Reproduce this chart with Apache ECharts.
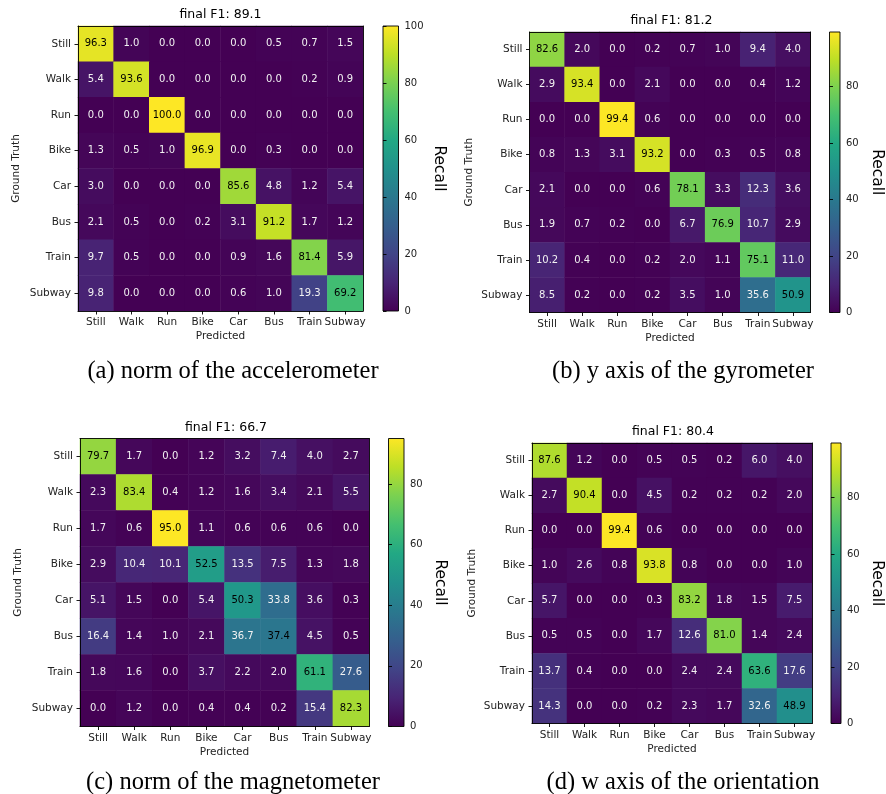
<!DOCTYPE html>
<html>
<head>
<meta charset="utf-8">
<script src="https://cdn.jsdelivr.net/npm/echarts@6/dist/echarts.min.js"></script>
<style>
html,body{margin:0;padding:0;background:#fff;}
#chart{width:886px;height:794px;}
</style>
</head>
<body>
<div id="chart"></div>
<script>
// ---- data ----
const categories = ['Still','Walk','Run','Bike','Car','Bus','Train','Subway'];

const accelerometer = [
  [96.3, 1.0, 0.0, 0.0, 0.0, 0.5, 0.7, 1.5],
  [5.4, 93.6, 0.0, 0.0, 0.0, 0.0, 0.2, 0.9],
  [0.0, 0.0, 100.0, 0.0, 0.0, 0.0, 0.0, 0.0],
  [1.3, 0.5, 1.0, 96.9, 0.0, 0.3, 0.0, 0.0],
  [3.0, 0.0, 0.0, 0.0, 85.6, 4.8, 1.2, 5.4],
  [2.1, 0.5, 0.0, 0.2, 3.1, 91.2, 1.7, 1.2],
  [9.7, 0.5, 0.0, 0.0, 0.9, 1.6, 81.4, 5.9],
  [9.8, 0.0, 0.0, 0.0, 0.6, 1.0, 19.3, 69.2]
];
const gyrometer = [
  [82.6, 2.0, 0.0, 0.2, 0.7, 1.0, 9.4, 4.0],
  [2.9, 93.4, 0.0, 2.1, 0.0, 0.0, 0.4, 1.2],
  [0.0, 0.0, 99.4, 0.6, 0.0, 0.0, 0.0, 0.0],
  [0.8, 1.3, 3.1, 93.2, 0.0, 0.3, 0.5, 0.8],
  [2.1, 0.0, 0.0, 0.6, 78.1, 3.3, 12.3, 3.6],
  [1.9, 0.7, 0.2, 0.0, 6.7, 76.9, 10.7, 2.9],
  [10.2, 0.4, 0.0, 0.2, 2.0, 1.1, 75.1, 11.0],
  [8.5, 0.2, 0.0, 0.2, 3.5, 1.0, 35.6, 50.9]
];
const magnetometer = [
  [79.7, 1.7, 0.0, 1.2, 3.2, 7.4, 4.0, 2.7],
  [2.3, 83.4, 0.4, 1.2, 1.6, 3.4, 2.1, 5.5],
  [1.7, 0.6, 95.0, 1.1, 0.6, 0.6, 0.6, 0.0],
  [2.9, 10.4, 10.1, 52.5, 13.5, 7.5, 1.3, 1.8],
  [5.1, 1.5, 0.0, 5.4, 50.3, 33.8, 3.6, 0.3],
  [16.4, 1.4, 1.0, 2.1, 36.7, 37.4, 4.5, 0.5],
  [1.8, 1.6, 0.0, 3.7, 2.2, 2.0, 61.1, 27.6],
  [0.0, 1.2, 0.0, 0.4, 0.4, 0.2, 15.4, 82.3]
];
const orientation = [
  [87.6, 1.2, 0.0, 0.5, 0.5, 0.2, 6.0, 4.0],
  [2.7, 90.4, 0.0, 4.5, 0.2, 0.2, 0.2, 2.0],
  [0.0, 0.0, 99.4, 0.6, 0.0, 0.0, 0.0, 0.0],
  [1.0, 2.6, 0.8, 93.8, 0.8, 0.0, 0.0, 1.0],
  [5.7, 0.0, 0.0, 0.3, 83.2, 1.8, 1.5, 7.5],
  [0.5, 0.5, 0.0, 1.7, 12.6, 81.0, 1.4, 2.4],
  [13.7, 0.4, 0.0, 0.0, 2.4, 2.4, 63.6, 17.6],
  [14.3, 0.0, 0.0, 0.2, 2.3, 1.7, 32.6, 48.9]
];

const titles = ['final F1: 89.1', 'final F1: 81.2', 'final F1: 66.7', 'final F1: 80.4'];
const captions = ['(a) norm of the accelerometer', '(b) y axis of the gyrometer',
                  '(c) norm of the magnetometer', '(d) w axis of the orientation'];
const colorbarTicksA = [0, 20, 40, 60, 80, 100];
const colorbarTicksOther = [0, 20, 40, 60, 80];
const xAxisName = 'Predicted';
const yAxisName = 'Ground Truth';
const colorbarName = 'Recall';

// ---- layout & style ----
const FONT = 'DejaVu Sans';
const viridis = ['#440154','#482475','#414487','#355f8d','#2a788e','#21918c','#22a884','#44bf70','#7ad151','#bddf26','#fde725'];

const panels = [
  {m: accelerometer, ticks: colorbarTicksA,
   grid: {left: 78, top: 26, width: 285, height: 285},
   cb: {left: 383, top: 26, width: 15.5, height: 285},
   title: [220.5, 16], cap: [233, 372], gtGap: 56, prGap: 20, rcGap: 33},
  {m: gyrometer, ticks: colorbarTicksOther,
   grid: {left: 529.5, top: 32, width: 281, height: 280.5},
   cb: {left: 829.5, top: 32, width: 14, height: 280.5},
   title: [671.5, 21.5], cap: [683, 372], gtGap: 55, prGap: 20, rcGap: 29},
  {m: magnetometer, ticks: colorbarTicksOther,
   grid: {left: 80, top: 438.5, width: 289, height: 288},
   cb: {left: 388.5, top: 438.5, width: 15.5, height: 288},
   title: [226, 428.5], cap: [233, 783], gtGap: 56, prGap: 20, rcGap: 28},
  {m: orientation, ticks: colorbarTicksOther,
   grid: {left: 532, top: 443, width: 280, height: 280.5},
   cb: {left: 831, top: 443, width: 14, height: 280.5},
   title: [673, 433], cap: [683, 783], gtGap: 54, prGap: 20, rcGap: 28}
];

const grid = [], xAxis = [], yAxis = [], series = [], visualMap = [], title = [], graphic = [];

panels.forEach((p, k) => {
  let vmax = 0;
  p.m.forEach(r => r.forEach(v => { if (v > vmax) vmax = v; }));
  const g = grid.length;
  grid.push(Object.assign({containLabel: false}, p.grid));
  grid.push(Object.assign({containLabel: false}, p.cb));
  const xb = xAxis.length;
  xAxis.push({type: 'category', gridIndex: g, data: categories, position: 'bottom', z: 5,
    axisLine: {show: true, lineStyle: {color: '#000', width: 0.9}},
    axisTick: {show: true, alignWithLabel: true, length: 3.5, lineStyle: {color: '#000', width: 0.9}},
    axisLabel: {interval: 0, margin: 6, color: '#222', fontFamily: FONT, fontSize: 10.5},
    splitLine: {show: false},
    name: xAxisName, nameLocation: 'middle', nameGap: p.prGap,
    nameTextStyle: {color: '#222', fontFamily: FONT, fontSize: 10.5}});
  xAxis.push({type: 'category', gridIndex: g, data: categories, position: 'top', z: 5,
    axisLine: {show: true, lineStyle: {color: '#000', width: 0.9}},
    axisTick: {show: false}, axisLabel: {show: false}, splitLine: {show: false}});
  xAxis.push({type: 'value', gridIndex: g + 1, min: 0, max: 1, show: false});
  const yb = yAxis.length;
  yAxis.push({type: 'category', gridIndex: g, data: categories, inverse: true, position: 'left', z: 5,
    axisLine: {show: true, lineStyle: {color: '#000', width: 0.9}},
    axisTick: {show: true, alignWithLabel: true, length: 3.5, lineStyle: {color: '#000', width: 0.9}},
    axisLabel: {interval: 0, margin: 7, color: '#222', fontFamily: FONT, fontSize: 10.5},
    splitLine: {show: false},
    name: yAxisName, nameLocation: 'middle', nameGap: p.gtGap, nameRotate: 90,
    nameTextStyle: {color: '#222', fontFamily: FONT, fontSize: 10.5}});
  yAxis.push({type: 'category', gridIndex: g, data: categories, inverse: true, position: 'right', z: 5,
    axisLine: {show: true, lineStyle: {color: '#000', width: 0.9}},
    axisTick: {show: false}, axisLabel: {show: false}, splitLine: {show: false}});
  yAxis.push({type: 'value', gridIndex: g + 1, min: 0, max: vmax, position: 'right', z: 5,
    axisLine: {show: false},
    axisTick: {show: true, length: 3.5, customValues: p.ticks, lineStyle: {color: '#000', width: 0.9}},
    axisLabel: {margin: 6, customValues: p.ticks, color: '#222', fontFamily: FONT, fontSize: 10},
    splitLine: {show: false},
    name: colorbarName, nameLocation: 'middle', nameGap: p.rcGap, nameRotate: -90,
    nameTextStyle: {color: '#000', fontFamily: FONT, fontSize: 15.5}});

  const data = [];
  p.m.forEach((row, i) => row.forEach((v, j) => {
    data.push({value: [j, i, v], label: {color: v >= 37 ? '#000' : '#f2f2f2'}});
  }));
  const si = series.length;
  series.push({type: 'heatmap', xAxisIndex: xb, yAxisIndex: yb, data: data,
    label: {show: true, fontFamily: FONT, fontSize: 10, formatter: q => q.value[2].toFixed(1)},
    emphasis: {disabled: true}, itemStyle: {borderWidth: 0}});
  visualMap.push({type: 'continuous', show: false, seriesIndex: si, dimension: 2, min: 0, max: vmax,
    inRange: {color: viridis}});
  series.push({type: 'custom', xAxisIndex: xb + 2, yAxisIndex: yb + 2, data: [[0, 0, 1, vmax]],
    silent: true, z: 2,
    renderItem: (params, api) => {
      const p0 = api.coord([api.value(0), api.value(1)]);
      const p1 = api.coord([api.value(2), api.value(3)]);
      const stops = viridis.map((c, n) => ({offset: n / (viridis.length - 1), color: c}));
      return {type: 'rect',
        shape: {x: p0[0], y: p1[1], width: p1[0] - p0[0], height: p0[1] - p1[1]},
        style: {fill: new echarts.graphic.LinearGradient(0, 1, 0, 0, stops), stroke: '#000', lineWidth: 0.9}};
    }});

  title.push({text: titles[k], left: p.title[0], top: p.title[1] - 7.5, textAlign: 'center', padding: 0,
    textStyle: {fontFamily: FONT, fontSize: 12.5, fontWeight: 'normal', color: '#000'}});
  graphic.push({type: 'text', x: p.cap[0], y: p.cap[1],
    style: {text: captions[k], fill: '#000', font: '24.5px "Liberation Serif"', align: 'center', verticalAlign: 'middle'}});
});

const chart = echarts.init(document.getElementById('chart'), null, {renderer: 'canvas'});
chart.setOption({
  animation: false,
  backgroundColor: '#fff',
  title: title,
  grid: grid,
  xAxis: xAxis,
  yAxis: yAxis,
  visualMap: visualMap,
  series: series,
  graphic: graphic
});
</script>
</body>
</html>
